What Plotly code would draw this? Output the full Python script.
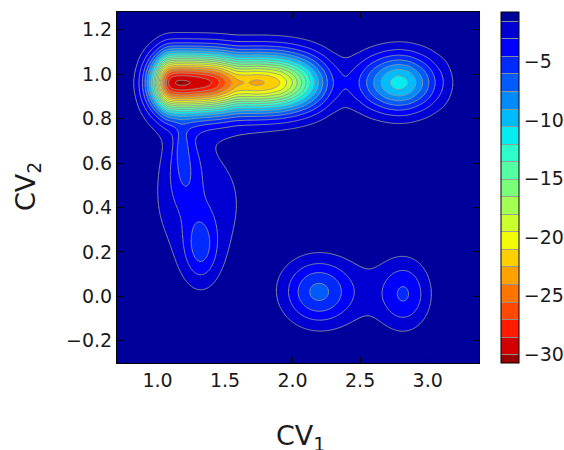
import numpy as np
import plotly.graph_objects as go

# Free energy along the upper valley (CV2 ~ 0.96)
ridge_cv1 = [0.70, 0.78, 0.84, 0.90, 0.95, 1.00, 1.04, 1.07, 1.10, 1.16, 1.22, 1.30, 1.37, 1.42,
             1.50, 1.58, 1.66, 1.74, 1.82, 1.91, 2.00, 2.10, 2.20, 2.28, 2.34, 2.38, 2.42, 2.50,
             2.60, 2.70, 2.78, 2.86, 2.96, 3.06, 3.18, 3.28, 3.38]
ridge_fe = [-0.2, -0.7, -1.6, -5.0, -10.0, -17.0, -24.0, -28.0, -29.5, -30.08, -29.9, -29.4, -28.7, -28.0,
            -25.5, -22.6, -22.3, -22.7, -22.3, -21.0, -18.0, -13.5, -8.5, -5.0, -3.6, -3.05, -3.2, -4.6,
            -7.5, -10.2, -11.3, -10.5, -7.6, -4.3, -1.5, -0.5, -0.1]
ridge_cv2 = 0.962
ridge_width = 0.092

# Smaller basins (centre CV1, centre CV2, depth, widths)
basin_cv1 = [1.31, 1.20, 1.18, 1.32, 2.18, 2.83, 2.45]
basin_cv2 = [0.42, 0.58, 0.68, 0.22, 0.02, 0.01, 0.02]
basin_depth = [2.2, 3.0, 1.8, 3.8, 5.4, 4.0, 1.5]
basin_sx = [0.31, 0.09, 0.035, 0.09, 0.17, 0.13, 0.30]
basin_sy = [0.25, 0.13, 0.06, 0.11, 0.10, 0.11, 0.12]

cv1_range = [0.70, 3.38]
cv2_range = [-0.30, 1.28]
x_ticks = [1.0, 1.5, 2.0, 2.5, 3.0]
y_ticks = [-0.2, 0.0, 0.2, 0.4, 0.6, 0.8, 1.0, 1.2]
cbar_ticks = [-5, -10, -15, -20, -25, -30]
level_start, level_end, level_step = -30.0, -1.5, 1.5

x = np.linspace(cv1_range[0], cv1_range[1], 360)
y = np.linspace(cv2_range[0], cv2_range[1], 280)
X, Y = np.meshgrid(x, y)

# ridge profile, lightly smoothed along CV1
prof = np.interp(x, ridge_cv1, ridge_fe)
dx = x[1] - x[0]
k = np.arange(-12, 13) * dx
kern = np.exp(-k ** 2 / (2 * 0.018 ** 2))
kern /= kern.sum()
pad = np.pad(prof, 12, mode="edge")
prof = np.convolve(pad, kern, mode="valid")
Z = prof[None, :] * np.exp(-(Y - ridge_cv2) ** 2 / (2 * ridge_width ** 2))
for cx, cy, d, sx, sy in zip(basin_cv1, basin_cv2, basin_depth, basin_sx, basin_sy):
    Z -= d * np.exp(-((X - cx) ** 2 / (2 * sx ** 2) + (Y - cy) ** 2 / (2 * sy ** 2)))


# matplotlib "jet", sampled at band midpoints like contourf (deep = red)
def jet(t):
    r = np.interp(t, [0, 0.35, 0.66, 0.89, 1], [0, 0, 1, 1, 0.5])
    g = np.interp(t, [0, 0.125, 0.375, 0.64, 0.91, 1], [0, 0, 1, 1, 0, 0])
    b = np.interp(t, [0, 0.11, 0.34, 0.65, 1], [0.5, 1, 1, 0, 0])
    return f"rgb({round(r*255)},{round(g*255)},{round(b*255)})"


nb = int(round((level_end - level_start) / level_step)) + 2  # number of bands
colorscale = [[i / (nb - 1), jet(1 - (i + 0.5) / nb)] for i in range(nb)]

W, H = 564, 450
L, T, PW, PH = 117, 12, 362, 351

font = "DejaVu Sans"
txt = "#1a1a1a"
fig = go.Figure(go.Contour(
    x=x, y=y, z=Z,
    colorscale=colorscale,
    contours=dict(start=level_start, end=level_end, size=level_step, coloring="fill"),
    line=dict(color="rgba(150,150,150,0.9)", width=1, smoothing=1),
    hoverinfo="skip",
    colorbar=dict(
        x=(501 - 117) / PW, xanchor="left", xpad=0, y=0.5, yanchor="middle", ypad=0,
        len=1, lenmode="fraction", thickness=18, thicknessmode="pixels",
        outlinecolor="black", outlinewidth=1,
        tickvals=cbar_ticks, ticks="", ticklen=2,
        tickfont=dict(family=font, size=19, color=txt),
    ),
))

axis_common = dict(
    showgrid=False, zeroline=False, showline=True, linecolor="black", linewidth=1,
    mirror="allticks", ticks="inside", ticklen=6, tickcolor="black",
    tickfont=dict(family=font, size=19, color=txt),
)
fig.update_xaxes(range=cv1_range, tickvals=x_ticks, ticktext=[f"{v:.1f}" for v in x_ticks], **axis_common)
fig.update_yaxes(range=cv2_range, tickvals=y_ticks,
                 ticktext=[f"{v:.1f}".replace("-", "\u2212") for v in y_ticks], **axis_common)

fig.update_layout(
    width=W, height=H,
    margin=dict(l=L, r=W - L - PW, t=T, b=H - T - PH, autoexpand=False),
    paper_bgcolor="white", plot_bgcolor="white",
    font=dict(family=font),
    annotations=[
        dict(text="CV<sub>1</sub>", xref="paper", yref="paper", x=(300 - 117) / PW, y=(363 - 437) / PH,
             xanchor="center", yanchor="middle", showarrow=False, font=dict(family=font, size=27, color=txt)),
        dict(text="CV<sub>2</sub>", xref="paper", yref="paper", x=(27 - 117) / PW, y=(363 - 187) / PH,
             textangle=-90, xanchor="center", yanchor="middle", showarrow=False,
             font=dict(family=font, size=27, color=txt)),
    ],
)
# remove the default 8 px page margin so the figure sits at the window origin
fig.write_html("out.html", config={"displayModeBar": False},
               post_script="document.body.style.margin='0';document.body.style.overflow='hidden';")
